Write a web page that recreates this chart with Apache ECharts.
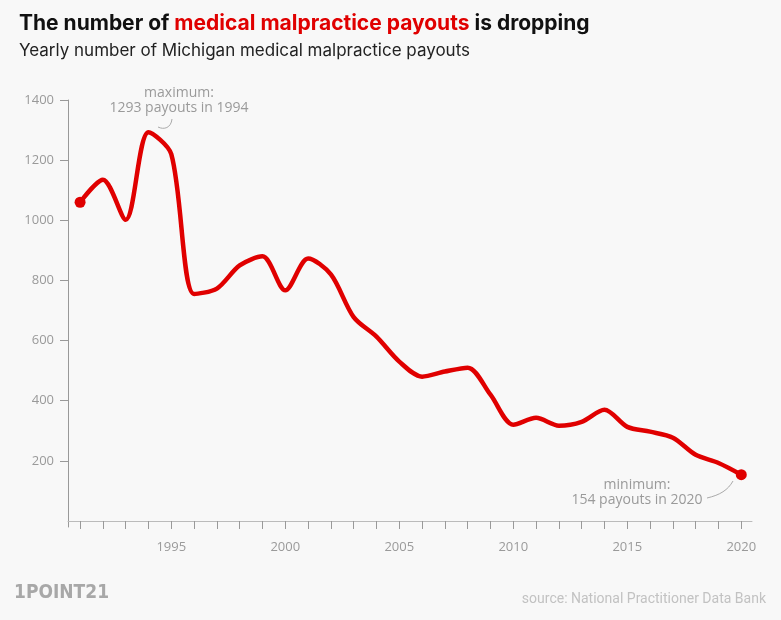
<!DOCTYPE html>
<html><head><meta charset="utf-8">
<script src="https://cdn.jsdelivr.net/npm/echarts@6/dist/echarts.min.js"></script>
<style>html,body{margin:0;padding:0;background:#f8f8f8}#c{width:781px;height:620px}</style>
</head><body><div id="c"></div>
<script>
const years = [1991,1992,1993,1994,1995,1996,1997,1998,1999,2000,2001,2002,2003,2004,2005,2006,2007,2008,2009,2010,2011,2012,2013,2014,2015,2016,2017,2018,2019,2020];
const payouts = [1060,1135,1002,1293,1220,755,773,850,880,767,873,820,678,613,530,480,497,510,420,320,343,317,330,370,313,297,277,220,193,154];
const yTicks = [200,400,600,800,1000,1200,1400];
const xLabels = [1995,2000,2005,2010,2015,2020];

const data = years.map((y,i)=>[y,payouts[i]]);
const gray = '#9a9a9a';
const chart = echarts.init(document.getElementById('c'));
chart.setOption({
  backgroundColor:'#f8f8f8',
  animation:false,
  grid:{left:68,right:29,top:100,bottom:93},
  title:[{
    left:14,top:8,
    text:'{a|The number of }{b|medical malpractice payouts}{a| is dropping}',
    textStyle:{rich:{
      a:{fontFamily:'Inter',fontWeight:'bold',fontSize:21,color:'#111'},
      b:{fontFamily:'Inter',fontWeight:'bold',fontSize:21,color:'#e00000'}}}
  },{
    left:14,top:37,text:'Yearly number of Michigan medical malpractice payouts',
    textStyle:{fontFamily:'Inter',fontWeight:'normal',fontSize:17,color:'#222'}
  }],
  xAxis:{type:'value',min:1990.47,max:2020.47,
    axisLine:{lineStyle:{color:'#bbb'}},
    axisTick:{show:true,customValues:years,length:8,lineStyle:{color:'#999'}},
    axisLabel:{customValues:xLabels,color:gray,fontFamily:'Open Sans',fontSize:13,margin:14,formatter:v=>String(v)},
    splitLine:{show:false}},
  yAxis:{type:'value',min:-20,max:1400,
    axisLine:{show:true,lineStyle:{color:'#999'}},
    axisTick:{show:true,customValues:yTicks,length:8,lineStyle:{color:'#999'}},
    axisLabel:{customValues:yTicks,color:gray,fontFamily:'Open Sans',fontSize:13,margin:14,formatter:v=>String(v)},
    splitLine:{show:false}},
  series:[{type:'line',data:data,smooth:0.3,
    lineStyle:{color:'#e00000',width:4.5},
    symbol:'circle',symbolSize:(v,p)=> (p.dataIndex===0||p.dataIndex===data.length-1)?11:0,
    itemStyle:{color:'#e00000'},
    showSymbol:true}],
  graphic:[
    {type:'text',x:179,y:86,style:{text:'maximum:\n1293 payouts in 1994',fill:gray,font:'14px "Open Sans"',textAlign:'center',lineHeight:15}},
    {type:'bezierCurve',shape:{x1:172,y1:119,cpx1:171,cpy1:128,x2:158,y2:127,cpx2:164,cpy2:130},style:{stroke:'#aaa',lineWidth:1,fill:null}},
    {type:'text',x:637,y:478,style:{text:'minimum:\n154 payouts in 2020',fill:gray,font:'14px "Open Sans"',textAlign:'center',lineHeight:15}},
    {type:'bezierCurve',shape:{x1:707,y1:498,cpx1:720,cpy1:495,x2:733,y2:481,cpx2:728,cpy2:490},style:{stroke:'#aaa',lineWidth:1,fill:null}},
    {type:'text',x:14,y:584,style:{text:'1POINT21',fill:'#a8a8a8',font:'bold 19px "DejaVu Sans Condensed"'}},
    {type:'text',x:766,y:592,style:{text:'source: National Practitioner Data Bank',fill:'#c2c2c2',font:'14px Roboto',textAlign:'right'}}
  ]
});
</script></body></html>
